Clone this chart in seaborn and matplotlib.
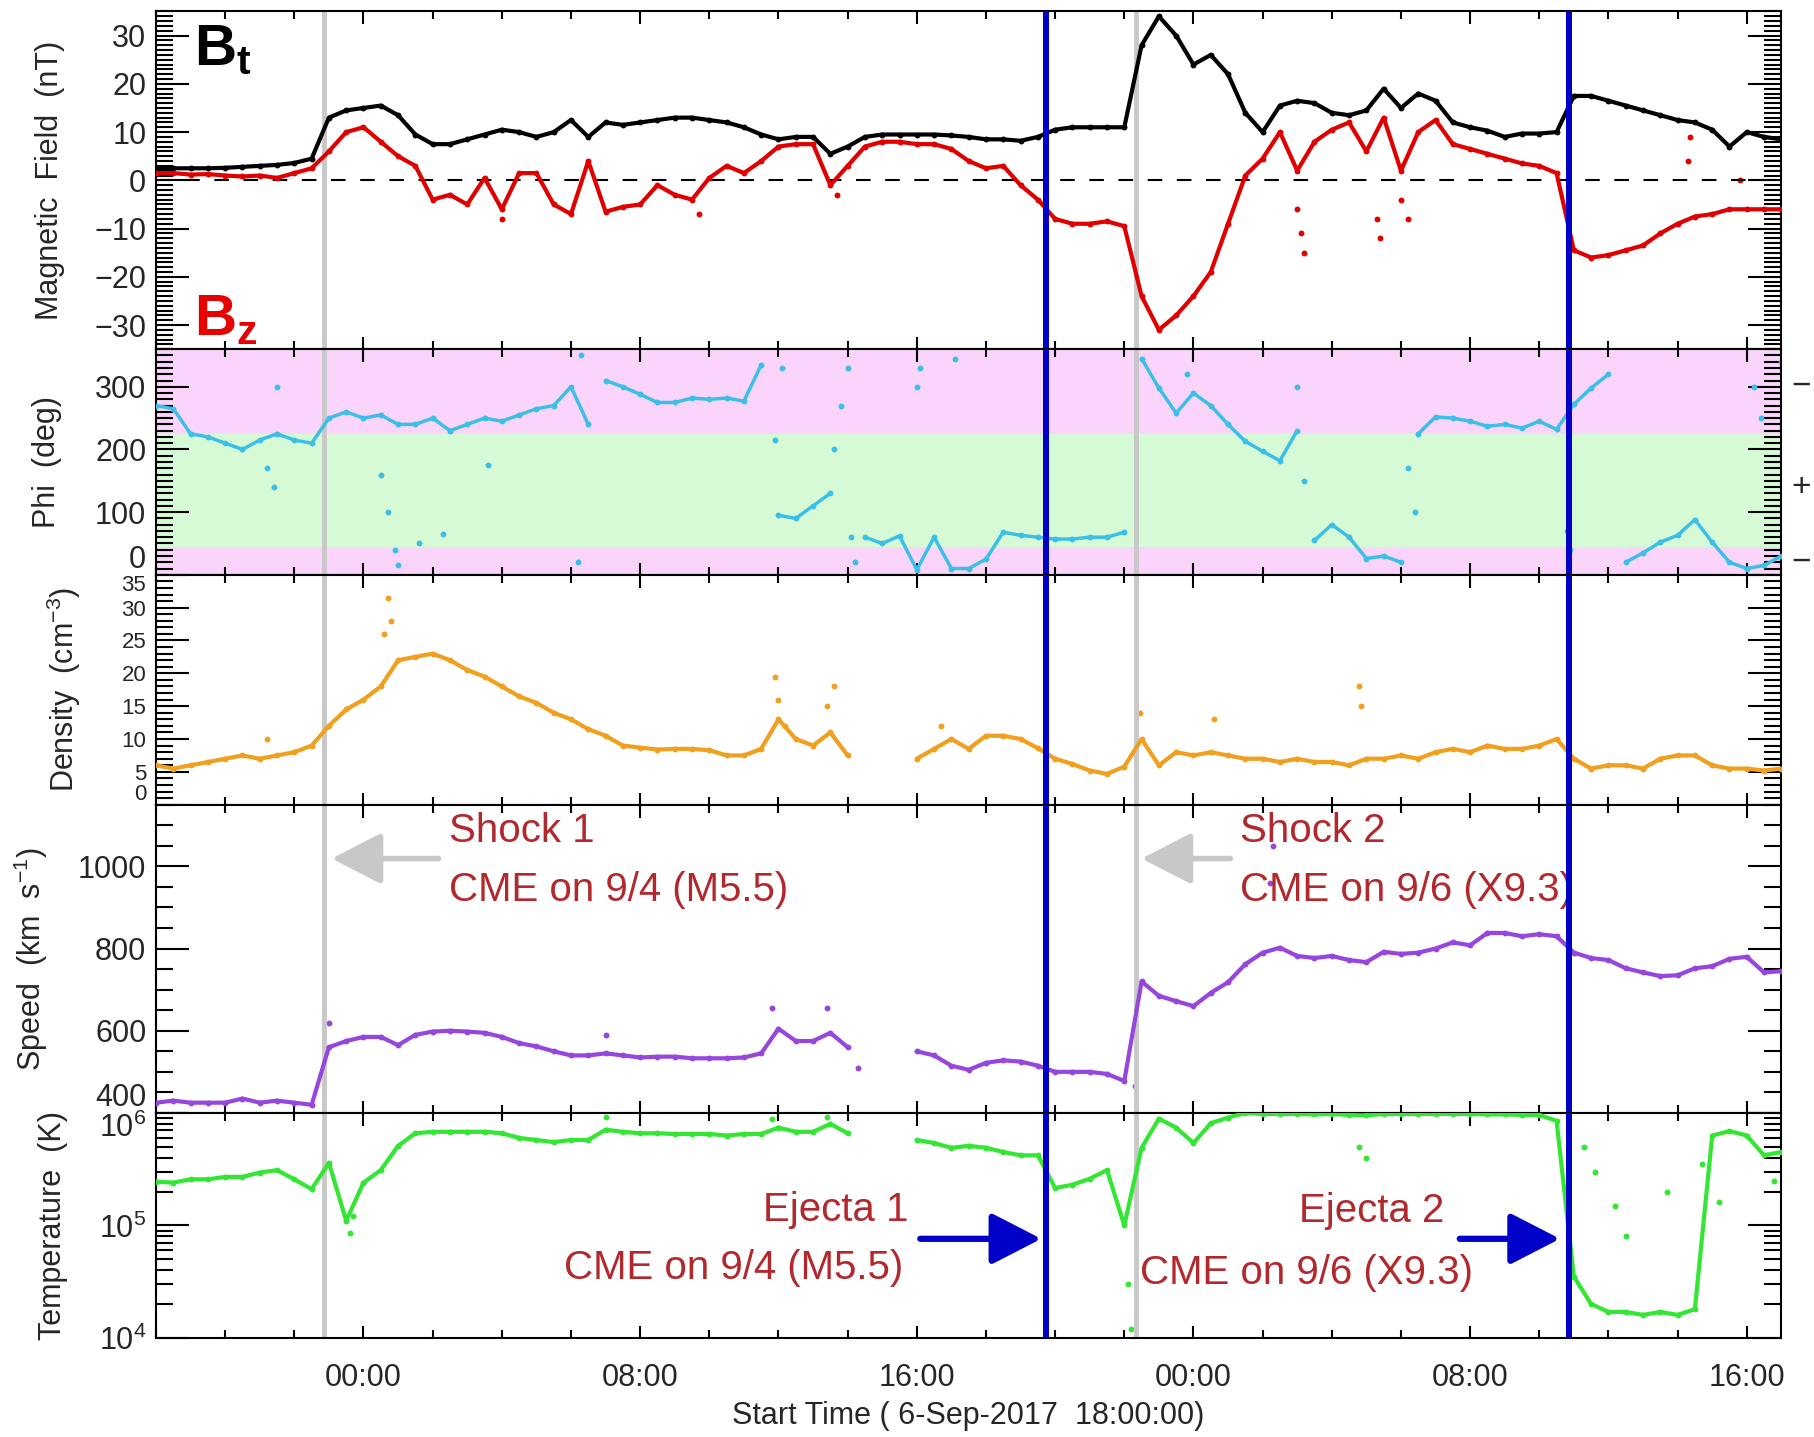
import numpy as np
import pandas as pd
import matplotlib
matplotlib.use('Agg')
import matplotlib.pyplot as plt
import matplotlib.transforms as mtransforms
from matplotlib.ticker import MultipleLocator, FixedLocator, LogLocator, NullFormatter
import seaborn as sns

# hours since 6-Sep-2017 18:00 UT, read every half hour
hours = np.arange(0, 47.01, 0.5)

bt = [2.5, 2.5, 2.5, 2.5, 2.6, 2.8, 3.0, 3.2, 3.6, 4.5,
      13.0, 14.5, 15.0, 15.5, 13.5, 9.5, 7.5, 7.5, 8.5, 9.5,
      10.5, 10.0, 9.0, 10.0, 12.5, 9.0, 12.0, 11.5, 12.0, 12.5,
      13.0, 13.0, 12.5, 12.0, 11.0, 9.5, 8.5, 9.0, 9.0, 5.5,
      7.0, 9.0, 9.5, 9.5, 9.5, 9.5, 9.3, 9.0, 8.5, 8.5,
      8.2, 9.0, 10.5, 11.0, 11.0, 11.0, 11.0, 28.0, 34.0, 30.0,
      24.0, 26.0, 22.0, 14.0, 10.0, 15.5, 16.5, 16.0, 14.0, 13.5,
      14.5, 19.0, 15.0, 18.0, 16.5, 12.0, 11.0, 10.3, 9.0, 9.7,
      9.7, 10.0, 17.5, 17.5, 16.5, 15.5, 14.5, 13.5, 12.5, 12.0,
      10.5, 7.0, 10.0, 9.0, 8.5]

bz = [1.5, 1.5, 1.2, 1.3, 1.0, 0.8, 1.0, 0.5, 1.5, 2.5,
      6.0, 10.0, 11.0, 8.0, 5.0, 3.0, -4.0, -3.0, -5.0, 0.5,
      -6.0, 1.5, 1.5, -5.0, -7.0, 4.0, -6.5, -5.5, -5.0, -1.0,
      -3.0, -4.0, 0.5, 3.0, 1.5, 4.0, 7.0, 7.5, 7.5, -1.0,
      3.0, 7.0, 8.0, 8.0, 7.5, 7.5, 6.5, 4.0, 2.5, 3.0,
      -1.0, -4.0, -8.0, -9.0, -9.0, -8.5, -9.5, -24.0, -31.0, -28.0,
      -24.0, -19.0, -9.0, 1.0, 4.5, 10.0, 2.0, 8.0, 10.5, 12.0,
      6.0, 13.0, 2.0, 10.0, 12.5, 7.5, 6.5, 5.5, 4.5, 3.5,
      3.0, 1.5, -14.5, -16.0, -15.5, -14.5, -13.5, -11.0, -9.0, -7.5,
      -7.0, -6.0, -6.0, -6.0, -6.0]

phi = [270, 265, 225, 220, 210, 200, 215, 225, 215, 210,
       250, 260, 250, 255, 240, 240, 250, 230, 240, 250,
       245, 255, 265, 270, 300, 240, 310, 300, 288, 275,
       275, 282, 280, 282, 277, 335, 95, 90, 110, 130,
       330, 60, 50, 62, 8, 60, 10, 10, 25, 68,
       63, 60, 57, 57, 60, 60, 68, 345, 298, 258,
       290, 270, 240, 213, 197, 182, 230, 55, 80, 60,
       26, 30, 20, 225, 252, 250, 245, 237, 240, 234,
       245, 232, 272, 298, 320, 20, 35, 52, 63, 88,
       52, 20, 10, 15, 30]

density = [6.0, 5.5, 6.0, 6.5, 7.0, 7.5, 7.0, 7.5, 8.0, 9.0,
           12.0, 14.5, 16.0, 18.0, 22.0, 22.5, 23.0, 22.0, 20.5, 19.5,
           18.0, 16.5, 15.5, 14.0, 13.0, 11.5, 10.5, 9.0, 8.7, 8.4,
           8.5, 8.5, 8.3, 7.5, 7.5, 8.5, 13.0, 10.0, 9.0, 11.0,
           7.5, np.nan, np.nan, np.nan, 7.0, 8.5, 10.0, 8.5, 10.5, 10.5,
           10.0, 8.6, 7.0, 6.2, 5.2, 4.7, 5.8, 10.0, 6.0, 8.0,
           7.5, 8.0, 7.5, 7.0, 7.0, 6.5, 7.0, 6.5, 6.5, 6.0,
           7.0, 7.0, 7.5, 7.0, 8.0, 8.5, 8.0, 9.0, 8.5, 8.5,
           9.0, 10.0, 7.0, 5.5, 6.0, 6.0, 5.5, 7.0, 7.5, 7.5,
           6.0, 5.5, 5.5, 5.2, 5.5]

speed = [425, 430, 425, 425, 425, 435, 425, 430, 425, 420,
         560, 575, 585, 585, 565, 590, 598, 600, 598, 595,
         585, 570, 562, 550, 540, 540, 545, 540, 535, 537,
         537, 533, 533, 533, 535, 545, 605, 575, 575, 595,
         560, np.nan, np.nan, np.nan, 550, 540, 515, 505, 522, 528,
         525, 515, 500, 500, 500, 495, 478, 720, 685, 672,
         660, 692, 718, 762, 790, 802, 782, 777, 782, 772,
         767, 792, 787, 790, 800, 815, 808, 838, 838, 830,
         835, 830, 790, 777, 772, 752, 742, 733, 735, 752,
         757, 775, 780, 742, 745]

# temperature in units of 1e5 K
temp_1e5 = [2.45, 2.4, 2.57, 2.57, 2.7, 2.7, 2.95, 3.1, 2.57, 2.1,
            3.6, 1.1, 2.4, 3.1, 5.1, 6.6, 6.8, 6.8, 6.8, 6.8,
            6.6, 6.0, 5.75, 5.5, 5.75, 5.75, 7.1, 6.8, 6.6, 6.6,
            6.5, 6.5, 6.5, 6.3, 6.5, 6.5, 7.4, 6.8, 6.8, 8.0,
            6.6, np.nan, np.nan, np.nan, 5.75, 5.4, 4.9, 5.1, 4.9, 4.5,
            4.2, 4.2, 2.15, 2.3, 2.6, 3.1, 1.0, 4.9, 8.9, 7.4,
            5.4, 8.1, 9.1, 10.0, 9.8, 9.8, 9.8, 9.7, 9.8, 9.6,
            9.5, 9.8, 9.8, 9.8, 9.8, 9.8, 9.8, 9.7, 9.7, 9.6,
            9.6, 8.5, 0.35, 0.2, 0.17, 0.17, 0.16, 0.17, 0.16, 0.18,
            6.3, 6.9, 6.3, 4.2, 4.5]

# isolated points off the main traces
bz_extra_t = [10.0, 15.7, 19.7, 33.0, 33.1, 33.2, 35.3, 35.4, 36.0, 36.2, 44.3, 44.35, 45.8]
bz_extra = [-8, -7, -3, -6, -11, -15, -8, -12, -4, -8, 4, 9, 0]
phi_extra_t = [3.2, 3.4, 3.5, 6.5, 6.7, 6.9, 7.0, 7.6, 8.3, 9.6, 12.2, 12.3, 17.9, 18.1,
               19.6, 19.8, 20.1, 20.2, 22.0, 22.1, 23.1, 29.8, 33.0, 33.2, 36.2, 36.4,
               40.8, 40.9, 46.2, 46.4, 47.0]
phi_extra = [170, 140, 300, 160, 100, 40, 15, 50, 65, 175, 20, 350, 215, 330,
             200, 270, 60, 20, 300, 330, 345, 320, 300, 150, 170, 100,
             70, 40, 300, 250, 340]
density_extra_t = [3.2, 6.6, 6.7, 6.8, 17.9, 18.0, 18.2, 19.4, 19.6, 22.7, 28.45, 30.6, 34.8, 34.85]
density_extra = [10, 26, 31.5, 28, 19.5, 16, 12, 15, 18, 12, 14, 13, 18, 15]
speed_extra_t = [5.0, 13.0, 17.8, 19.4, 20.3, 28.3, 32.2, 32.3]
speed_extra = [620, 590, 655, 655, 510, 465, 960, 1050]
temp_extra_t = [5.6, 5.7, 13.0, 17.8, 19.4, 28.1, 28.2, 34.8, 35.0, 41.3, 41.6,
                42.2, 42.5, 43.7, 44.7, 45.2, 46.8]
temp_extra_1e5 = [0.85, 1.2, 9.2, 8.8, 9.2, 0.3, 0.12, 5.0, 4.0, 5.0, 3.0,
                  1.5, 0.8, 2.0, 3.5, 1.6, 2.5]

shock_hours = [4.85, 28.35]
ejecta_hours = [25.75, 40.85]
tick_hours = [6, 14, 22, 30, 38, 46]
tick_labels = ['00:00', '08:00', '16:00', '00:00', '08:00', '16:00']

sns.set_style('ticks')
plt.rcParams['font.family'] = ['Liberation Sans', 'DejaVu Sans']
plt.rcParams['mathtext.fontset'] = 'custom'
plt.rcParams['mathtext.rm'] = 'Liberation Sans'
plt.rcParams['mathtext.it'] = 'Liberation Sans:italic'
plt.rcParams['mathtext.bf'] = 'Liberation Sans:bold'

TXT = '#b3282d'
GREY = '#c8c8c8'
BLUE = '#0000c8'


def segments(t, v, jump=None):
    df = pd.DataFrame({'t': t, 'v': v})
    seg = df['v'].isna().cumsum()
    if jump is not None:
        seg = seg + (df['v'].diff().abs() > jump).cumsum()
    df['seg'] = seg
    return df.dropna()


def trace(ax, t, v, color, jump=None, lw=3.0, s=18):
    df = segments(t, v, jump)
    sns.lineplot(data=df, x='t', y='v', units='seg', estimator=None, sort=False,
                 color=color, lw=lw, ax=ax, legend=False, zorder=3)
    sns.scatterplot(data=df, x='t', y='v', color=color, s=s, linewidth=0,
                    ax=ax, legend=False, zorder=3)


fig, axes = plt.subplots(5, 1, figsize=(18.14, 14.37), sharex=True,
                         gridspec_kw={'height_ratios': [0.235, 0.157, 0.160, 0.2145, 0.1565]})
fig.subplots_adjust(left=0.086, right=0.982, top=0.992, bottom=0.069, hspace=0)
ax1, ax2, ax3, ax4, ax5 = axes

# magnetic field
ax1.axhline(0, color='black', lw=1.5, dashes=(7, 7), zorder=2)
trace(ax1, hours, bt, 'black')
trace(ax1, hours, bz, '#e00000')
sns.scatterplot(x=bz_extra_t, y=bz_extra, color='#e00000', s=18, linewidth=0, ax=ax1, legend=False)
ax1.set_ylim(-35, 35)
ax1.yaxis.set_major_locator(MultipleLocator(10))
ax1.yaxis.set_minor_locator(MultipleLocator(1))
ax1.text(1.1, 24, r'$\mathbf{B}_\mathbf{t}$', fontsize=42, color='black', va='baseline')
ax1.text(1.1, -32, r'$\mathbf{B}_\mathbf{z}$', fontsize=42, color='#e60000', va='baseline')

# phi with sign bands
ax2.axhspan(0, 45, color='#fad4fa', lw=0, zorder=0)
ax2.axhspan(45, 225, color='#d6fad6', lw=0, zorder=0)
ax2.axhspan(225, 360, color='#fad4fa', lw=0, zorder=0)
trace(ax2, hours, phi, '#3cbfe6', jump=60, lw=2.5)
sns.scatterplot(x=phi_extra_t, y=phi_extra, color='#3cbfe6', s=18, linewidth=0, ax=ax2, legend=False)
ax2.set_ylim(0, 360)
ax2.yaxis.set_major_locator(MultipleLocator(100))
ax2.yaxis.set_minor_locator(MultipleLocator(10))
side = mtransforms.blended_transform_factory(ax2.transAxes, ax2.transData)
for yv, s in [(300, '\u2212'), (140, '+'), (20, '\u2212')]:
    ax2.text(1.012, yv, s, transform=side, fontsize=24, ha='center', va='center', clip_on=False)

# density
trace(ax3, hours, density, '#f0a01e')
sns.scatterplot(x=density_extra_t, y=density_extra, color='#f0a01e', s=18, linewidth=0, ax=ax3, legend=False)
ax3.set_ylim(0, 35)
ax3.yaxis.set_major_locator(MultipleLocator(5))
ax3.yaxis.set_minor_locator(MultipleLocator(1))

# speed
trace(ax4, hours, speed, '#9646dc')
sns.scatterplot(x=speed_extra_t, y=speed_extra, color='#9646dc', s=18, linewidth=0, ax=ax4, legend=False)
ax4.set_ylim(400, 1150)
ax4.yaxis.set_major_locator(FixedLocator([400, 600, 800, 1000]))
ax4.yaxis.set_minor_locator(MultipleLocator(50))

# temperature
ax5.set_yscale('log')
trace(ax5, hours, np.array(temp_1e5) * 1e5, '#33e633')
sns.scatterplot(x=temp_extra_t, y=np.array(temp_extra_1e5) * 1e5, color='#33e633', s=18,
                linewidth=0, ax=ax5, legend=False)
ax5.set_ylim(1e4, 1e6)
ax5.yaxis.set_major_locator(LogLocator(base=10, numticks=5))
ax5.yaxis.set_minor_locator(LogLocator(base=10, subs=np.arange(2, 10), numticks=20))
ax5.yaxis.set_minor_formatter(NullFormatter())

ylabels = ['Magnetic  Field  (nT)', 'Phi  (deg)', 'Density  (cm$^{-3}$)',
           'Speed  (km  s$^{-1}$)', 'Temperature  (K)']
label_x = [-0.056, -0.058, -0.045, -0.065, -0.054]
for ax, lab, lx in zip(axes, ylabels, label_x):
    for t in shock_hours:
        ax.axvline(t, color=GREY, lw=3.5, zorder=2.5)
    for t in ejecta_hours:
        ax.axvline(t, color=BLUE, lw=4.3, zorder=5)
    ax.set_xlim(0, 47)
    ax.set_xlabel('')
    ax.set_ylabel(lab, fontsize=22)
    ax.yaxis.set_label_coords(lx, 0.5)
    ax.xaxis.set_minor_locator(MultipleLocator(2))
    ax.tick_params(axis='both', which='both', direction='in', top=True, right=True,
                   width=1.5, labelsize=22, color='black')
    ax.tick_params(axis='y', which='major', length=24, pad=7)
    ax.tick_params(axis='y', which='minor', length=12)
    ax.tick_params(axis='x', which='major', length=9, pad=18)
    ax.tick_params(axis='x', which='minor', length=6)
    for sp in ax.spines.values():
        sp.set_linewidth(1.5)
        sp.set_color('black')

ax3.tick_params(axis='y', which='major', labelsize=16)
ax5.set_xticks(tick_hours, tick_labels)
ax5.set_xlabel('Start Time ( 6-Sep-2017  18:00:00)', fontsize=22, labelpad=6)

# end labels at the panel joins are pushed inward, as in the original
fig.canvas.draw()
for lab in ax2.get_yticklabels():
    if lab.get_text() == '0':
        lab.set_va('bottom')
for lab in ax3.get_yticklabels():
    if lab.get_text() == '0':
        lab.set_va('bottom')
    elif lab.get_text() == '35':
        lab.set_va('top')
for lab in ax4.get_yticklabels():
    if lab.get_text() == '400':
        lab.set_va('bottom')
for lab in ax5.get_yticklabels():
    if '6' in lab.get_text():
        lab.set_va('top')

# shock annotations
arrow_grey = dict(arrowstyle='-|>,head_length=1.4,head_width=0.72', color=GREY, lw=4,
                  mutation_scale=22, shrinkA=0, shrinkB=0)
arrow_blue = dict(arrowstyle='-|>,head_length=1.4,head_width=0.72', color=BLUE, lw=4.5,
                  mutation_scale=22, shrinkA=0, shrinkB=0)
ax4.annotate('', xy=(5.08, 1019), xytext=(8.17, 1019), arrowprops=arrow_grey, zorder=6)
ax4.annotate('', xy=(28.5, 1019), xytext=(31.07, 1019), arrowprops=arrow_grey, zorder=6)
ax4.text(8.46, 1086, 'Shock 1', color=TXT, fontsize=29, va='center', ha='left')
ax4.text(8.46, 943, 'CME on 9/4 (M5.5)', color=TXT, fontsize=29, va='center', ha='left')
ax4.text(31.35, 1086, 'Shock 2', color=TXT, fontsize=29, va='center', ha='left')
ax4.text(31.35, 943, 'CME on 9/6 (X9.3)', color=TXT, fontsize=29, va='center', ha='left')

# ejecta annotations
ax5.annotate('', xy=(25.6, 7.6e4), xytext=(22.1, 7.6e4), arrowprops=arrow_blue, zorder=6)
ax5.annotate('', xy=(40.6, 7.6e4), xytext=(37.7, 7.6e4), arrowprops=arrow_blue, zorder=6)
ax5.text(17.56, 1.38e5, 'Ejecta 1', color=TXT, fontsize=29, va='center', ha='left')
ax5.text(11.8, 4.2e4, 'CME on 9/4 (M5.5)', color=TXT, fontsize=29, va='center', ha='left')
ax5.text(33.05, 1.35e5, 'Ejecta 2', color=TXT, fontsize=29, va='center', ha='left')
ax5.text(28.45, 3.8e4, 'CME on 9/6 (X9.3)', color=TXT, fontsize=29, va='center', ha='left')

fig.savefig('out.png', dpi=100)
